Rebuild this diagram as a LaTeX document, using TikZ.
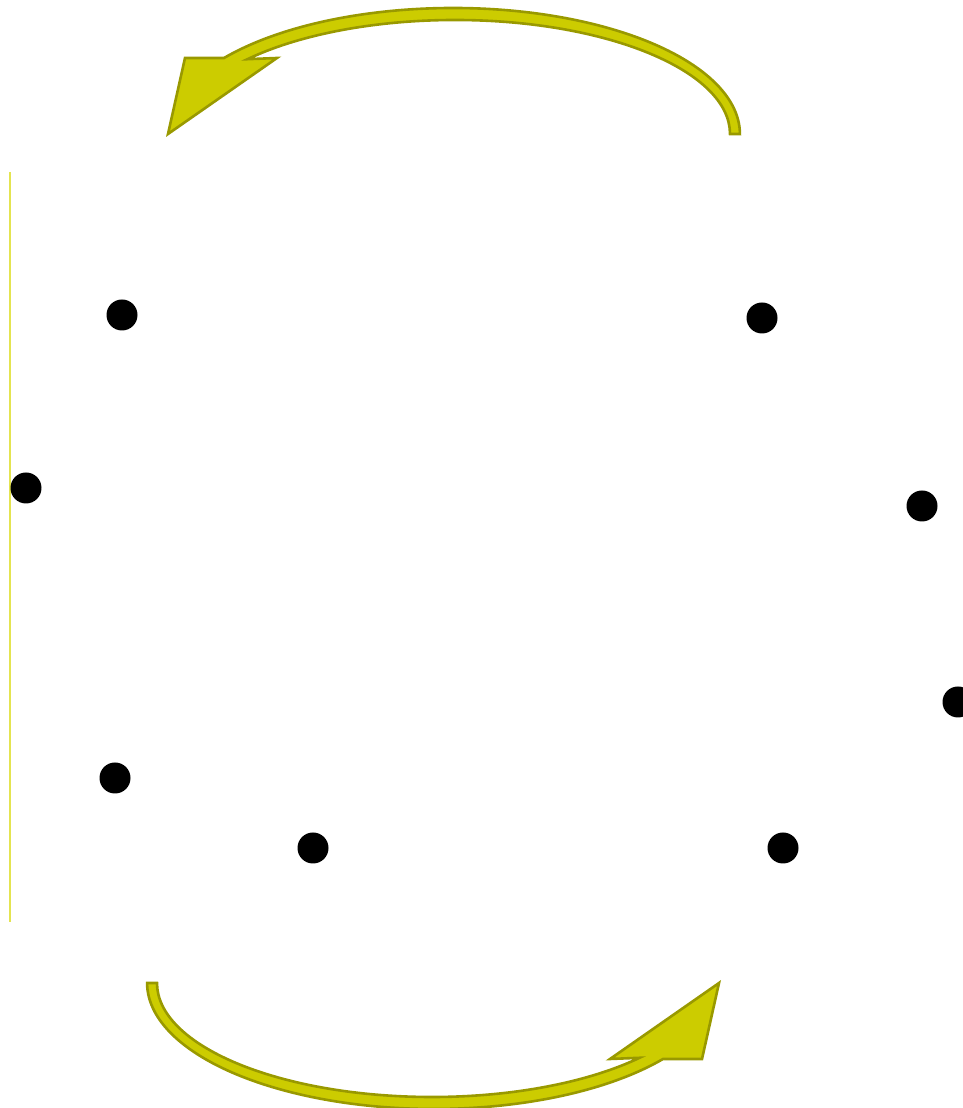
\documentclass[tikz,border=0pt]{standalone}
\definecolor{arrfill}{RGB}{204,204,0}
\definecolor{arrline}{RGB}{153,153,0}
\definecolor{sideline}{RGB}{228,228,80}
\tikzset{
  dot/.style={circle, fill=black, draw=none, minimum size=31pt, inner sep=0pt},
  bigarrow/.style={fill=arrfill, draw=arrline, line width=2.6pt, line join=miter},
  side/.style={draw=sideline, line width=2pt}
}
\begin{document}
\begin{tikzpicture}[x=1pt,y=1pt]
\useasboundingbox (0,0) rectangle (963,1108);
\clip (0,0) rectangle (963,1108);
% side line
\coordinate (lt) at (10,936);
\coordinate (lb) at (10,186);
\draw[side] (lt) -- (lb);
% dots (pixel y -> 1108 - y)
\node[dot] (d1) at (122,793) {};
\node[dot] (d2) at (762,790) {};
\node[dot] (d3) at (26,620) {};
\node[dot] (d4) at (922,602) {};
\node[dot] (d5) at (958,406) {};
\node[dot] (d6) at (115,330) {};
\node[dot] (d7) at (313,260) {};
\node[dot] (d8) at (783,260) {};
% top curved arrow
\path[bigarrow] (730,974) arc[start angle=0, end angle=139, x radius=275, y radius=114]
  -- (277,1050) -- (168,974) -- (185,1050) -- (224,1050)
  arc[start angle=142.9, end angle=0, x radius=287, y radius=126] -- cycle;
% bottom curved arrow (180 deg rotation)
\begin{scope}[rotate around={180:(443.5,549.5)}]
\path[bigarrow] (730,974) arc[start angle=0, end angle=139, x radius=275, y radius=114]
  -- (277,1050) -- (168,974) -- (185,1050) -- (224,1050)
  arc[start angle=142.9, end angle=0, x radius=287, y radius=126] -- cycle;
\end{scope}
\end{tikzpicture}
\end{document}
